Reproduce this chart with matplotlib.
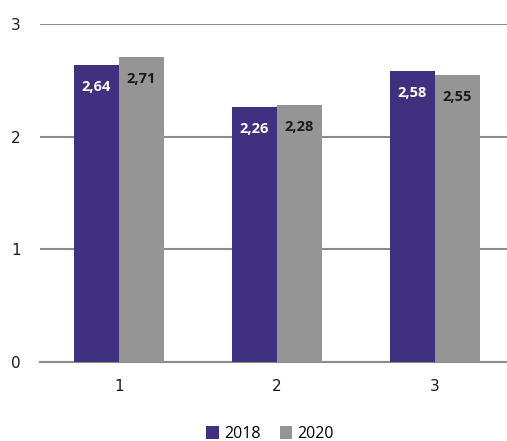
import matplotlib
matplotlib.use("Agg")
import matplotlib.pyplot as plt
import numpy as np

categories = ["1", "2", "3"]
series_names = ["2018", "2020"]
values_2018 = [2.64, 2.26, 2.58]
values_2020 = [2.71, 2.28, 2.55]
colors = ["#3F3180", "#959595"]
label_colors = ["white", "#1a1a1a"]

W, H = 507, 441
fig = plt.figure(figsize=(W/100, H/100), dpi=100)
ax = fig.add_axes([40/W, 1-362/H, (W-40)/W, (362-24)/H])

x = np.arange(1, len(categories)+1)
bw = 45/158
for i, (vals, c, lc) in enumerate(zip([values_2018, values_2020], colors, label_colors)):
    xs = x + (i-0.5)*bw
    ax.bar(xs, vals, width=bw, color=c, label=series_names[i], zorder=3)
    for xx, v in zip(xs, vals):
        ax.annotate(f"{v:.2f}".replace(".", ","), (xx, v), xytext=(0, -22),
                    textcoords="offset pixels",
                    ha="center", va="center", color=lc, fontsize=10.5,
                    fontweight="bold", family="Open Sans", zorder=4)

ax.set_xlim(0.5, 0.5+467/158)
ax.set_ylim(0, 3)
ax.set_yticks([0, 1, 2, 3])
ax.set_xticks(x)
ax.set_xticklabels(categories)
ax.yaxis.grid(True, color="#8c8c8c", linewidth=1.5, zorder=0)
for s in ["top", "right", "left"]:
    ax.spines[s].set_visible(False)
ax.spines["bottom"].set_color("#8c8c8c")
ax.spines["bottom"].set_linewidth(1.5)
ax.tick_params(axis="both", length=0, labelsize=11, colors="#1a1a1a")
ax.tick_params(axis="y", pad=14)
ax.tick_params(axis="x", pad=12)

leg = fig.legend(loc="center", bbox_to_anchor=(270/W, 1-434/H), ncol=2, frameon=False,
                 handlelength=0.8, handleheight=0.8, handletextpad=0.3, columnspacing=1.2,
                 prop={"family": "Open Sans", "size": 11.5})
fig.savefig("out.png", dpi=100)
